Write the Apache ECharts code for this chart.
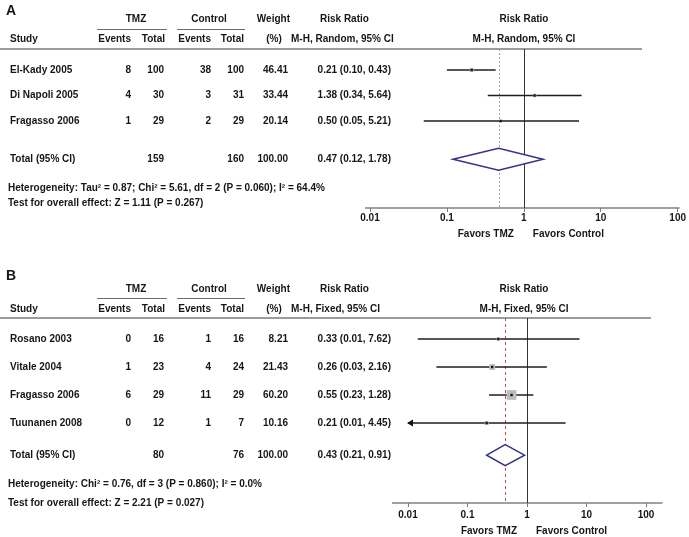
<!DOCTYPE html>
<html><head><meta charset="utf-8">
<script src="https://cdn.jsdelivr.net/npm/echarts@6/dist/echarts.min.js"></script>
<style>html,body{margin:0;padding:0;background:#fff}#c{width:689px;height:537px}</style>
</head><body><div id="c"></div>
<script>
// ---------- Panel A data (M-H, Random) ----------
const studiesA = ['El-Kady 2005', 'Di Napoli 2005', 'Fragasso 2006'];
const tmzEventsA = [8, 4, 1];
const tmzTotalA = [100, 30, 29];
const ctrlEventsA = [38, 3, 2];
const ctrlTotalA = [100, 31, 29];
const weightA = [46.41, 33.44, 20.14];
const rrA = [0.21, 1.38, 0.50];
const lowA = [0.10, 0.34, 0.05];
const highA = [0.43, 5.64, 5.21];
const totalA = [159, 160, 100.00];      // TMZ total, control total, weight
const pooledA = [0.47, 0.12, 1.78];     // RR, low, high
const hetA = 'Heterogeneity: Tau\u00b2 = 0.87; Chi\u00b2 = 5.61, df = 2 (P = 0.060); I\u00b2 = 64.4%';
const testA = 'Test for overall effect: Z = 1.11 (P = 0.267)';

// ---------- Panel B data (M-H, Fixed) ----------
const studiesB = ['Rosano 2003', 'Vitale 2004', 'Fragasso 2006', 'Tuunanen 2008'];
const tmzEventsB = [0, 1, 6, 0];
const tmzTotalB = [16, 23, 29, 12];
const ctrlEventsB = [1, 4, 11, 1];
const ctrlTotalB = [16, 24, 29, 7];
const weightB = [8.21, 21.43, 60.20, 10.16];
const rrB = [0.33, 0.26, 0.55, 0.21];
const lowB = [0.0146, 0.03, 0.23, 0.0095];
const highB = [7.62, 2.16, 1.28, 4.45];
const totalB = [80, 76, 100.00];
const pooledB = [0.43, 0.21, 0.91];
const hetB = 'Heterogeneity: Chi\u00b2 = 0.76, df = 3 (P = 0.860); I\u00b2 = 0.0%';
const testB = 'Test for overall effect: Z = 2.21 (P = 0.027)';

// ---------- Axis ----------
const tickValues = [0.01, 0.1, 1, 10, 100];
const tickLabels = ['0.01', '0.1', '1', '10', '100'];

// ---------- Layout ----------
const FONT = 'bold 10px "Liberation Sans", Arial, sans-serif';
const TXT = '#161616';
const panels = [
  { letter: 'A', method: 'M-H, Random, 95% CI',
    studies: studiesA, te: tmzEventsA, tt: tmzTotalA, ce: ctrlEventsA, ct: ctrlTotalA,
    w: weightA, rr: rrA, lo: lowA, hi: highA, total: totalA, pooled: pooledA, het: hetA, test: testA,
    left: 370, right: 8, top: 49, axisY: 208, firstRowY: 70, rowStep: 25.5, totalRow: 3.5,
    sq: 0.6, letterY: 11, h1: 19.5, ul: 29.5, h2: 39, lineEnd: 642,
    hetY: 188, testY: 203, labelMargin: 5, favorsDy: 26, axisExt: [0.0086, 106], diamondH: 11,
    ref: { stroke: '#a0a0a0', lineDash: [2, 2] } },
  { letter: 'B', method: 'M-H, Fixed, 95% CI',
    studies: studiesB, te: tmzEventsB, tt: tmzTotalB, ce: ctrlEventsB, ct: ctrlTotalB,
    w: weightB, rr: rrB, lo: lowB, hi: highB, total: totalB, pooled: pooledB, het: hetB, test: testB,
    left: 408, right: 43, top: 318, axisY: 503, firstRowY: 339, rowStep: 28, totalRow: 4.15,
    sq: 1.25, letterY: 276, h1: 289.5, ul: 298.5, h2: 309, lineEnd: 651,
    hetY: 484, testY: 503, labelMargin: 7, favorsDy: 28, axisExt: [0.0054, 190], diamondH: 10.5,
    ref: { stroke: '#c84848', lineDash: [3, 3] } }
];

function txt(x, y, text, align, font) {
  return { type: 'text', x: x, y: y,
    style: { text: text, x: 0, y: 0, font: font || FONT, fill: TXT, align: align || 'left', verticalAlign: 'middle',
             textAlign: align || 'left', textVerticalAlign: 'middle' } };
}
function fmt2(v) { return v.toFixed(2); }

const grids = [], xAxes = [], yAxes = [], series = [], graphics = [];

panels.forEach(function (p, k) {
  grids.push({ left: p.left, right: p.right, top: p.top, bottom: 537 - p.axisY, containLabel: false });
  xAxes.push({ type: 'log', logBase: 10, gridIndex: k, position: 'bottom',
    min: tickValues[0], max: tickValues[tickValues.length - 1],
    splitNumber: 4,
    axisLine: { show: false, onZero: false },
    axisTick: { show: true, length: 4, lineStyle: { color: '#7a7a7a', width: 1 } },
    splitLine: { show: false },
    axisLabel: { margin: p.labelMargin, color: TXT, fontWeight: 'bold', fontSize: 10,
      fontFamily: '"Liberation Sans", Arial, sans-serif',
      formatter: function (v) {
        for (let i = 0; i < tickValues.length; i++) if (Math.abs(Math.log10(v) - Math.log10(tickValues[i])) < 1e-6) return tickLabels[i];
        return '';
      } } });
  yAxes.push({ type: 'value', gridIndex: k, inverse: true, show: false,
    axisLine: { onZero: false },
    min: (p.top - p.firstRowY) / p.rowStep, max: (p.axisY - p.firstRowY) / p.rowStep });

  // axis line (extended slightly beyond 0.01 and 100)
  series.push({ type: 'custom', xAxisIndex: k, yAxisIndex: k, silent: true,
    data: [[1, 0]],
    renderItem: function (params, api) {
      const cs = params.coordSys;
      const a = api.coord([p.axisExt[0], 0])[0], b = api.coord([p.axisExt[1], 0])[0];
      const y = cs.y + cs.height;
      return { type: 'line', shape: { x1: a, y1: y, x2: b, y2: y }, style: { stroke: '#808080', lineWidth: 1.5 } };
    } });

  // reference lines: no effect (1) and pooled estimate
  series.push({ type: 'custom', xAxisIndex: k, yAxisIndex: k, silent: true,
    data: [[p.pooled[0], 0, 1], [1, 0, 0]],
    renderItem: function (params, api) {
      const cs = params.coordSys;
      const x = Math.round(api.coord([api.value(0), 0])[0]) + 0.5;
      const isPooled = api.value(2) === 1;
      return { type: 'line', shape: { x1: x, y1: cs.y, x2: x, y2: cs.y + cs.height },
        style: isPooled ? { stroke: p.ref.stroke, lineWidth: 1, lineDash: p.ref.lineDash }
                        : { stroke: '#333', lineWidth: 1 } };
    } });

  // study CIs and squares
  series.push({ type: 'custom', xAxisIndex: k, yAxisIndex: k, silent: true,
    data: p.studies.map(function (s, i) { return [p.rr[i], i, p.lo[i], p.hi[i], p.w[i]]; }),
    renderItem: function (params, api) {
      const rr = api.value(0), row = api.value(1), lo = api.value(2), hi = api.value(3), w = api.value(4);
      const minX = tickValues[0];
      const loC = Math.max(lo, minX);
      const p0 = api.coord([loC, row]), p1 = api.coord([hi, row]), pc = api.coord([rr, row]);
      const sz = p.sq * Math.sqrt(w);
      const ch = [
        { type: 'line', shape: { x1: p0[0], y1: p0[1], x2: p1[0], y2: p1[1] }, style: { stroke: '#1e1e1e', lineWidth: 1.5 } },
        { type: 'rect', shape: { x: pc[0] - sz / 2, y: pc[1] - sz / 2, width: sz, height: sz }, style: { fill: '#bcbcbc' } },
        { type: 'rect', shape: { x: pc[0] - 1.2, y: pc[1] - 1.2, width: 2.4, height: 2.4 }, style: { fill: '#111' } }
      ];
      if (lo < minX) {
        ch.push({ type: 'polygon', shape: { points: [[p0[0] - 1, p0[1]], [p0[0] + 5, p0[1] - 3.5], [p0[0] + 5, p0[1] + 3.5]] }, style: { fill: '#111' } });
      }
      return { type: 'group', children: ch };
    } });

  // pooled diamond
  series.push({ type: 'custom', xAxisIndex: k, yAxisIndex: k, silent: true,
    data: [[p.pooled[0], p.totalRow, p.pooled[1], p.pooled[2]]],
    renderItem: function (params, api) {
      const rr = api.value(0), row = api.value(1), lo = api.value(2), hi = api.value(3);
      const c = api.coord([rr, row]), l = api.coord([lo, row]), r = api.coord([hi, row]);
      const h = p.diamondH;
      return { type: 'polygon', shape: { points: [[l[0], c[1]], [c[0], c[1] - h], [r[0], c[1]], [c[0], c[1] + h]] },
        style: { fill: '#fff', stroke: '#33338a', lineWidth: 1.5 } };
    } });

  // table text rows
  const rows = p.studies.map(function (s, i) { return [1, i, i]; });
  rows.push([1, p.totalRow, -1]);
  series.push({ type: 'custom', xAxisIndex: k, yAxisIndex: k, silent: true,
    data: rows,
    renderItem: function (params, api) {
      const idx = api.value(2);
      const y = api.coord([1, api.value(1)])[1];
      let cells;
      if (idx >= 0) {
        cells = [
          txt(10, y, p.studies[idx], 'left'),
          txt(131, y, String(p.te[idx]), 'right'),
          txt(164, y, String(p.tt[idx]), 'right'),
          txt(211, y, String(p.ce[idx]), 'right'),
          txt(244, y, String(p.ct[idx]), 'right'),
          txt(288, y, fmt2(p.w[idx]), 'right'),
          txt(391, y, fmt2(p.rr[idx]) + ' (' + fmt2(p.lo[idx]) + ', ' + fmt2(p.hi[idx]) + ')', 'right')
        ];
      } else {
        cells = [
          txt(10, y, 'Total (95% CI)', 'left'),
          txt(164, y, String(p.total[0]), 'right'),
          txt(244, y, String(p.total[1]), 'right'),
          txt(288, y, fmt2(p.total[2]), 'right'),
          txt(391, y, fmt2(p.pooled[0]) + ' (' + fmt2(p.pooled[1]) + ', ' + fmt2(p.pooled[2]) + ')', 'right')
        ];
      }
      return { type: 'group', children: cells };
    } });

  // favours labels around RR = 1
  series.push({ type: 'custom', xAxisIndex: k, yAxisIndex: k, silent: true,
    data: [[1, 0]],
    renderItem: function (params, api) {
      const cs = params.coordSys;
      const x = api.coord([1, 0])[0];
      const y = cs.y + cs.height + p.favorsDy;
      return { type: 'group', children: [txt(x - 10, y, 'Favors TMZ', 'right'), txt(x + 9, y, 'Favors Control', 'left')] };
    } });

  // headers / static text
  graphics.push(txt(6, p.letterY, p.letter, 'left', 'bold 14px "Liberation Sans", Arial, sans-serif'));
  graphics.push(txt(136, p.h1, 'TMZ', 'center'));
  graphics.push(txt(209, p.h1, 'Control', 'center'));
  graphics.push(txt(290, p.h1, 'Weight', 'right'));
  graphics.push(txt(320, p.h1, 'Risk Ratio', 'left'));
  graphics.push(txt(524, p.h1, 'Risk Ratio', 'center'));
  graphics.push(txt(10, p.h2, 'Study', 'left'));
  graphics.push(txt(131, p.h2, 'Events', 'right'));
  graphics.push(txt(165, p.h2, 'Total', 'right'));
  graphics.push(txt(211, p.h2, 'Events', 'right'));
  graphics.push(txt(244, p.h2, 'Total', 'right'));
  graphics.push(txt(274, p.h2, '(%)', 'center'));
  graphics.push(txt(291, p.h2, p.method, 'left'));
  graphics.push(txt(524, p.h2, p.method, 'center'));
  graphics.push({ type: 'line', shape: { x1: 97, y1: p.ul, x2: 167, y2: p.ul }, style: { stroke: '#6a6a6a', lineWidth: 1 } });
  graphics.push({ type: 'line', shape: { x1: 177, y1: p.ul, x2: 245, y2: p.ul }, style: { stroke: '#6a6a6a', lineWidth: 1 } });
  graphics.push({ type: 'line', shape: { x1: 0, y1: p.top, x2: p.lineEnd, y2: p.top }, style: { stroke: '#7a7a7a', lineWidth: 1.5 } });
  graphics.push(txt(8, p.hetY, p.het, 'left'));
  graphics.push(txt(8, p.testY, p.test, 'left'));
});

const chart = echarts.init(document.getElementById('c'));
chart.setOption({
  backgroundColor: '#fff',
  animation: false,
  grid: grids, xAxis: xAxes, yAxis: yAxes, series: series,
  graphic: { elements: graphics }
});
</script></body></html>
